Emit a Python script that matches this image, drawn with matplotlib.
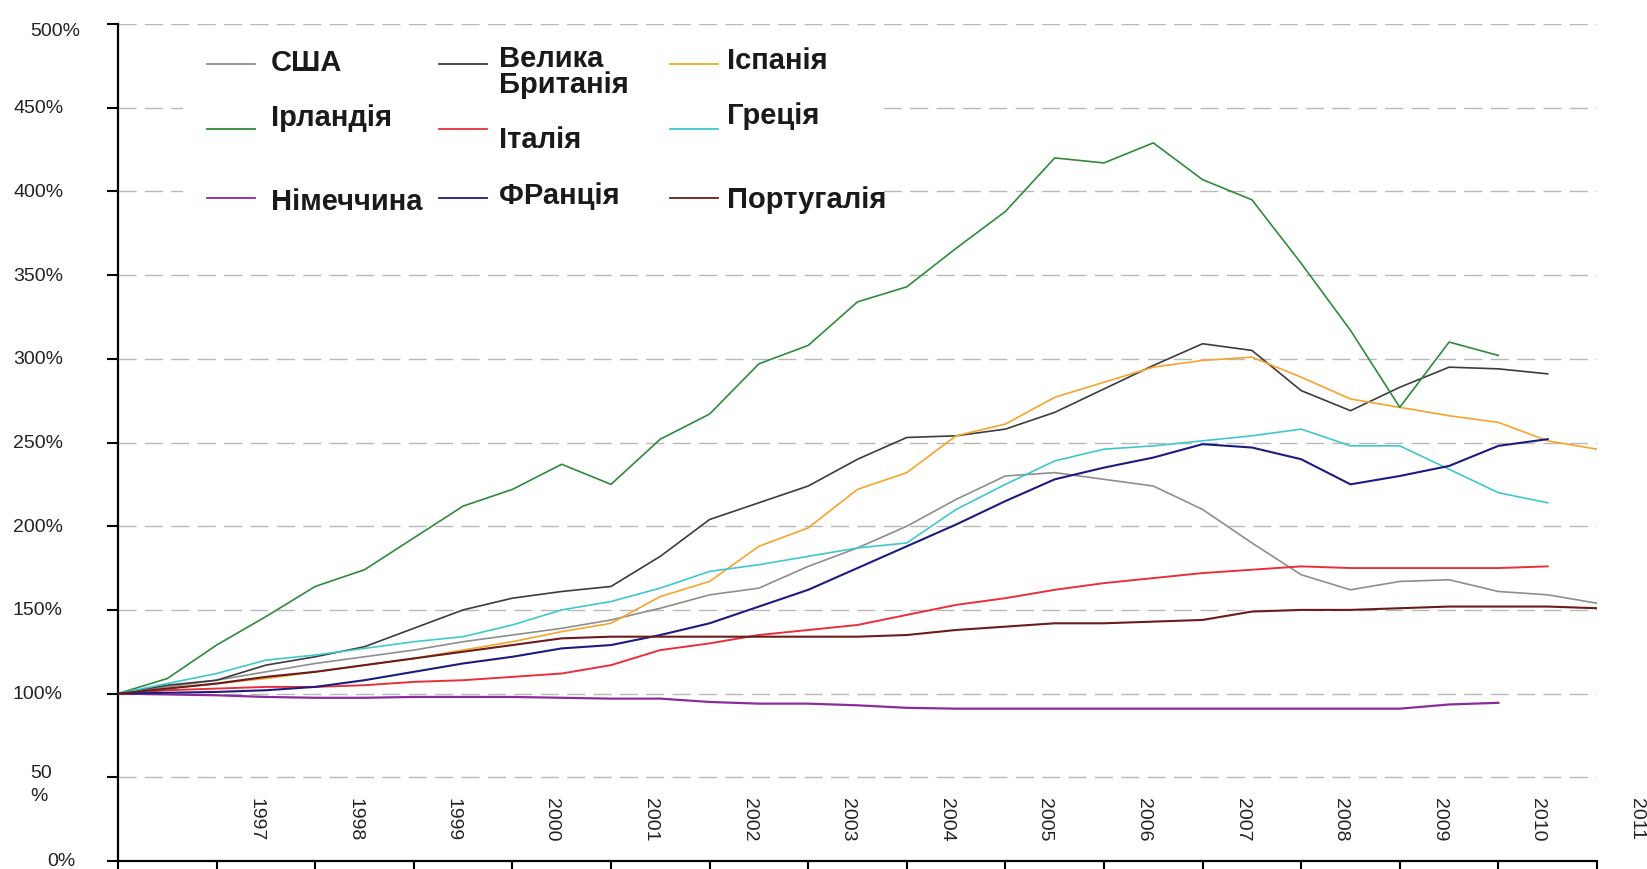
import numpy as np
import matplotlib.pyplot as plt
import matplotlib.transforms as mtransforms
from matplotlib.lines import Line2D
from matplotlib.patches import Rectangle

plt.rcParams['font.family'] = ['Liberation Sans', 'DejaVu Sans']

# House price index, 1996 = 100%, half-year steps
usa = [100, 104, 108, 113, 118, 122, 126, 131, 135, 139, 144, 151, 159, 163, 176, 187,
       200, 216, 230, 232, 228, 224, 210, 190, 171, 162, 167, 168, 161, 159, 154]
uk = [100, 105, 108, 117, 122, 128, 139, 150, 157, 161, 164, 182, 204, 214, 224, 240,
      253, 254, 258, 268, 282, 296, 309, 305, 281, 269, 283, 295, 294, 291]
spain = [100, 103, 106, 109, 113, 117, 121, 126, 131, 137, 142, 158, 167, 188, 199, 222,
         232, 254, 261, 277, 286, 295, 299, 301, 289, 276, 271, 266, 262, 251, 246]
ireland = [100, 109, 129, 146, 164, 174, 193, 212, 222, 237, 225, 252, 267, 297, 308, 334,
           343, 366, 388, 420, 417, 429, 407, 395, 357, 317, 271, 310, 302]
italy = [100, 102, 103, 104, 104, 105, 107, 108, 110, 112, 117, 126, 130, 135, 138, 141,
         147, 153, 157, 162, 166, 169, 172, 174, 176, 175, 175, 175, 175, 176]
greece = [100, 106, 112, 120, 123, 127, 131, 134, 141, 150, 155, 163, 173, 177, 182, 187,
          190, 210, 225, 239, 246, 248, 251, 254, 258, 248, 248, 234, 220, 214]
germany = [100, 99.5, 99, 98, 97.5, 97.5, 98, 98, 98, 97.5, 97, 97, 95, 94, 94, 93,
           91.5, 91, 91, 91, 91, 91, 91, 91, 91, 91, 91, 93.5, 94.5]
france = [100, 100.5, 101, 102, 104, 108, 113, 118, 122, 127, 129, 135, 142, 152, 162, 175,
          188, 201, 215, 228, 235, 241, 249, 247, 240, 225, 230, 236, 248, 252]
portugal = [100, 103, 106, 110, 113, 117, 121, 125, 129, 133, 134, 134, 134, 134, 134, 134,
            135, 138, 140, 142, 142, 143, 144, 149, 150, 150, 151, 152, 152, 152, 151]

years = list(range(1997, 2012))
y_ticks = [0, 50, 100, 150, 200, 250, 300, 350, 400, 450, 500]
y_labels = ['0%', '50\n%', '100%', '150%', '200%', '250%', '300%', '350%', '400%', '450%', '500%']

series = [
    ('США', usa, '#8e8e8e', 1.2),
    ('Велика\nБританія', uk, '#3c3c3c', 1.2),
    ('Іспанія', spain, '#f5a42c', 1.2),
    ('Ірландія', ireland, '#2f8a3c', 1.2),
    ('Італія', italy, '#e8303c', 1.4),
    ('Греція', greece, '#3ec8cc', 1.2),
    ('Німеччина', germany, '#8b2c9c', 1.6),
    ('ФРанція', france, '#1c1c80', 1.5),
    ('Португалія', portugal, '#6b1c1c', 1.5),
]

W, H = 1647, 870
fig = plt.figure(figsize=(W / 100, H / 100), dpi=100)
ax = fig.add_axes([118 / W, 8 / H, 1479 / W, 837 / H])

# dashed grid lines
for v in y_ticks[1:]:
    ax.axhline(v, color='#b8b8b8', lw=1.0, linestyle=(0, (13, 6)), zorder=1)

for name, vals, col, lw in series:
    x = np.arange(len(vals)) / 2
    ax.plot(x, vals, color=col, lw=lw, zorder=3)

ax.set_xlim(0, 15)
ax.set_ylim(0, 500)
ax.set_xticks(range(16))
ax.set_xticklabels([])
ax.set_yticks(y_ticks)
ax.set_yticklabels([])
ax.tick_params(axis='both', direction='out', length=8, width=1.5, color='black')
for s in ['top', 'right']:
    ax.spines[s].set_visible(False)
for s in ['left', 'bottom']:
    ax.spines[s].set_linewidth(1.6)

# y labels
trans_y = mtransforms.blended_transform_factory(ax.transAxes, ax.transData)
for v, lab in zip(y_ticks, y_labels):
    xl, yv = -105 / 1479, v
    if lab == '0%':
        xl = -71 / 1479
    elif lab.startswith('50'):
        xl, yv = -88 / 1479, v - 4
    ax.text(xl, yv, lab, transform=trans_y, ha='left', va='center',
            fontsize=14, color='#222222', linespacing=1.45)

# year labels, rotated, inside the plot
for k, yr in enumerate(years, start=1):
    ax.text(k + 0.4, 25.5, str(yr), rotation=-90, ha='center', va='center',
            fontsize=14, color='#222222', clip_on=False)

# legend drawn by hand
def fx(px):
    return px / W

def fy(py):
    return 1 - py / H

fig.patches.append(Rectangle((fx(183), fy(232)), fx(880) - fx(183), fy(35) - fy(232),
                             transform=fig.transFigure, facecolor='white',
                             edgecolor='none', zorder=2))

legend_layout = [
    # line x0, line y, text x, text y
    (207, 65, 271, 63),
    (439, 65, 499, 72),
    (670, 65, 727, 61),
    (207, 130, 271, 118),
    (439, 130, 499, 140),
    (670, 130, 727, 116),
    (207, 199, 271, 202),
    (439, 199, 499, 196),
    (670, 199, 727, 200),
]
for (name, vals, col, lw), (lx, ly, tx, ty) in zip(series, legend_layout):
    fig.add_artist(Line2D([fx(lx), fx(lx + 48)], [fy(ly), fy(ly)], color=col, lw=1.3,
                          transform=fig.transFigure, zorder=4))
    fig.text(fx(tx), fy(ty), name, ha='left', va='center', fontsize=21,
             fontweight='bold', color='#1a1a1a', linespacing=0.92, zorder=4)

fig.savefig('out.png', dpi=100)
plt.close(fig)
